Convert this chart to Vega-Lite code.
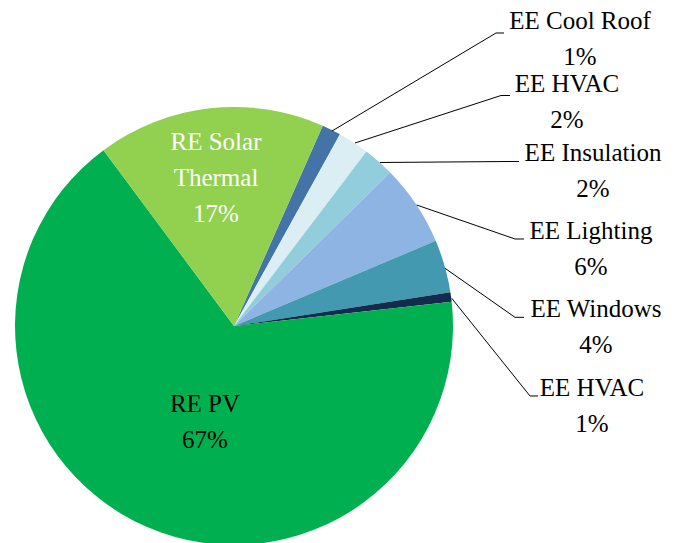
{
  "$schema": "https://vega.github.io/schema/vega-lite/v6.json",
  "width": 684,
  "height": 543,
  "padding": 0,
  "autosize": {"type": "none"},
  "background": "white",
  "config": {
    "view": {"stroke": null},
    "text": {"font": "Liberation Serif", "fontSize": 25}
  },
  "datasets": {
    "slices": [
      {"idx": 1, "id": "ee_cool_roof", "name": "EE Cool Roof", "group": "EE", "share": 0.014, "lx": 157.99, "ly": 135.62},
      {"idx": 2, "id": "ee_hvac_a", "name": "EE HVAC", "group": "EE", "share": 0.023, "lx": 152.05, "ly": 106.85},
      {"idx": 3, "id": "ee_insulation", "name": "EE Insulation", "group": "EE", "share": 0.023, "lx": 163.93, "ly": 75.34},
      {"idx": 4, "id": "ee_lighting", "name": "EE Lighting", "group": "EE", "share": 0.060, "lx": 163.01, "ly": 39.5},
      {"idx": 5, "id": "ee_windows", "name": "EE Windows", "group": "EE", "share": 0.039, "lx": 165.3, "ly": 4.11},
      {"idx": 6, "id": "ee_hvac_b", "name": "EE HVAC", "group": "EE", "share": 0.007, "lx": 163.47, "ly": -31.96},
      {"idx": 7, "id": "re_pv", "name": "RE PV", "group": "RE", "share": 0.666},
      {"idx": 8, "id": "re_solar_thermal", "name": "RE Solar\nThermal", "group": "RE", "share": 0.168}
    ],
    "leaders": [
      {"id": "ee_cool_roof", "step": 1, "x": 44.75, "y": 89.04},
      {"id": "ee_cool_roof", "step": 2, "x": 119.63, "y": 133.79},
      {"id": "ee_cool_roof", "step": 3, "x": 123.29, "y": 133.79},
      {"id": "ee_hvac_a", "step": 1, "x": 55.25, "y": 83.56},
      {"id": "ee_hvac_a", "step": 2, "x": 121.92, "y": 105.25},
      {"id": "ee_hvac_a", "step": 3, "x": 126.03, "y": 105.25},
      {"id": "ee_insulation", "step": 1, "x": 66.67, "y": 74.66},
      {"id": "ee_insulation", "step": 2, "x": 126.03, "y": 75.11},
      {"id": "ee_insulation", "step": 3, "x": 130.14, "y": 75.11},
      {"id": "ee_lighting", "step": 1, "x": 83.42, "y": 55.25},
      {"id": "ee_lighting", "step": 2, "x": 128.31, "y": 39.73},
      {"id": "ee_lighting", "step": 3, "x": 132.42, "y": 39.73},
      {"id": "ee_windows", "step": 1, "x": 96.35, "y": 26.35},
      {"id": "ee_windows", "step": 2, "x": 128.31, "y": 3.97},
      {"id": "ee_windows", "step": 3, "x": 132.42, "y": 3.97},
      {"id": "ee_hvac_b", "step": 1, "x": 99.41, "y": 12.65},
      {"id": "ee_hvac_b", "step": 2, "x": 135.16, "y": -31.96},
      {"id": "ee_hvac_b", "step": 3, "x": 138.81, "y": -31.96}
    ]
  },
  "layer": [
    {
      "data": {"name": "slices"},
      "mark": {"type": "arc", "outerRadius": 219},
      "encoding": {
        "x": {"datum": 0, "type": "quantitative", "scale": {"domain": [-106.85, 205.48], "nice": false, "zero": false}, "axis": null},
        "y": {"datum": 0, "type": "quantitative", "scale": {"domain": [-99.09, 148.86], "nice": false, "zero": false}, "axis": null},
        "theta": {"field": "share", "type": "quantitative", "stack": true, "scale": {"range": [0.4171, 6.7003]}},
        "order": {"field": "idx", "type": "quantitative"},
        "color": {
          "field": "id",
          "type": "nominal",
          "legend": null,
          "scale": {
            "domain": ["ee_cool_roof", "ee_hvac_a", "ee_insulation", "ee_lighting", "ee_windows", "ee_hvac_b", "re_pv", "re_solar_thermal"],
            "range": ["#4473A8", "#DAEEF3", "#92CDDC", "#8EB4E3", "#4399B0", "#132B4C", "#00B050", "#92D050"]
          }
        }
      }
    },
    {
      "data": {"name": "slices"},
      "mark": {"type": "text", "radius": 163, "dy": -14, "color": "white", "lineBreak": "\n", "lineHeight": 36.5, "align": "center", "baseline": "alphabetic"},
      "encoding": {
        "x": {"datum": 0, "type": "quantitative", "scale": {"domain": [-106.85, 205.48], "nice": false, "zero": false}, "axis": null},
        "y": {"datum": 0, "type": "quantitative", "scale": {"domain": [-99.09, 148.86], "nice": false, "zero": false}, "axis": null},
        "theta": {"field": "share", "type": "quantitative", "stack": true, "scale": {"range": [0.4171, 6.7003]}},
        "order": {"field": "idx", "type": "quantitative"},
        "text": {"condition": {"test": "datum.id === 're_solar_thermal'", "field": "name", "type": "nominal"}, "value": ""}
      }
    },
    {
      "data": {"name": "slices"},
      "mark": {"type": "text", "radius": 163, "dy": 58, "color": "white", "align": "center", "baseline": "alphabetic"},
      "encoding": {
        "x": {"datum": 0, "type": "quantitative", "scale": {"domain": [-106.85, 205.48], "nice": false, "zero": false}, "axis": null},
        "y": {"datum": 0, "type": "quantitative", "scale": {"domain": [-99.09, 148.86], "nice": false, "zero": false}, "axis": null},
        "theta": {"field": "share", "type": "quantitative", "stack": true, "scale": {"range": [0.4171, 6.7003]}},
        "order": {"field": "idx", "type": "quantitative"},
        "text": {"condition": {"test": "datum.id === 're_solar_thermal'", "field": "share", "type": "quantitative", "format": ".0%"}, "value": ""}
      }
    },
    {
      "data": {"name": "slices"},
      "mark": {"type": "text", "radius": 72.7, "dy": 19.3, "color": "black", "align": "center", "baseline": "alphabetic"},
      "encoding": {
        "x": {"datum": 0, "type": "quantitative", "scale": {"domain": [-106.85, 205.48], "nice": false, "zero": false}, "axis": null},
        "y": {"datum": 0, "type": "quantitative", "scale": {"domain": [-99.09, 148.86], "nice": false, "zero": false}, "axis": null},
        "theta": {"field": "share", "type": "quantitative", "stack": true, "scale": {"range": [0.4171, 6.7003]}},
        "order": {"field": "idx", "type": "quantitative"},
        "text": {"condition": {"test": "datum.id === 're_pv'", "field": "name", "type": "nominal"}, "value": ""}
      }
    },
    {
      "data": {"name": "slices"},
      "mark": {"type": "text", "radius": 72.7, "dy": 55.3, "color": "black", "align": "center", "baseline": "alphabetic"},
      "encoding": {
        "x": {"datum": 0, "type": "quantitative", "scale": {"domain": [-106.85, 205.48], "nice": false, "zero": false}, "axis": null},
        "y": {"datum": 0, "type": "quantitative", "scale": {"domain": [-99.09, 148.86], "nice": false, "zero": false}, "axis": null},
        "theta": {"field": "share", "type": "quantitative", "stack": true, "scale": {"range": [0.4171, 6.7003]}},
        "order": {"field": "idx", "type": "quantitative"},
        "text": {"condition": {"test": "datum.id === 're_pv'", "field": "share", "type": "quantitative", "format": ".0%"}, "value": ""}
      }
    },
    {
      "data": {"name": "leaders"},
      "mark": {"type": "line", "color": "black", "strokeWidth": 1},
      "encoding": {
        "x": {"field": "x", "type": "quantitative", "scale": {"domain": [-106.85, 205.48], "nice": false, "zero": false}, "axis": null},
        "y": {"field": "y", "type": "quantitative", "scale": {"domain": [-99.09, 148.86], "nice": false, "zero": false}, "axis": null},
        "detail": {"field": "id", "type": "nominal"},
        "order": {"field": "step", "type": "quantitative"}
      }
    },
    {
      "data": {"name": "slices"},
      "transform": [{"filter": "datum.group === 'EE'"}],
      "mark": {"type": "text", "color": "black", "align": "center", "baseline": "alphabetic"},
      "encoding": {
        "x": {"field": "lx", "type": "quantitative", "scale": {"domain": [-106.85, 205.48], "nice": false, "zero": false}, "axis": null},
        "y": {"field": "ly", "type": "quantitative", "scale": {"domain": [-99.09, 148.86], "nice": false, "zero": false}, "axis": null},
        "text": {"field": "name", "type": "nominal"}
      }
    },
    {
      "data": {"name": "slices"},
      "transform": [{"filter": "datum.group === 'EE'"}],
      "mark": {"type": "text", "color": "black", "align": "center", "baseline": "alphabetic", "dy": 36},
      "encoding": {
        "x": {"field": "lx", "type": "quantitative", "scale": {"domain": [-106.85, 205.48], "nice": false, "zero": false}, "axis": null},
        "y": {"field": "ly", "type": "quantitative", "scale": {"domain": [-99.09, 148.86], "nice": false, "zero": false}, "axis": null},
        "text": {"field": "share", "type": "quantitative", "format": ".0%"}
      }
    }
  ]
}
